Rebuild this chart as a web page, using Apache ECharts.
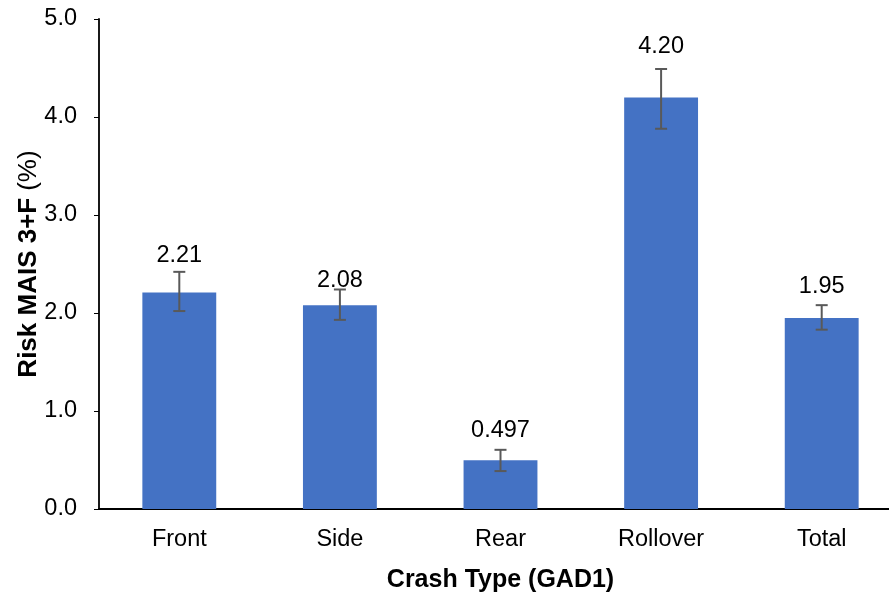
<!DOCTYPE html>
<html>
<head>
<meta charset="utf-8">
<script src="https://cdn.jsdelivr.net/npm/echarts@6/dist/echarts.min.js"></script>
<style>
  html, body { margin: 0; padding: 0; background: #fff; }
  #chart { width: 889px; height: 594px; }
</style>
</head>
<body>
<div id="chart"></div>
<script>
// data
var categories = ['Front', 'Side', 'Rear', 'Rollover', 'Total'];
var risk = [2.21, 2.08, 0.497, 4.20, 1.95];
var riskLabels = ['2.21', '2.08', '0.497', '4.20', '1.95'];
var errLow = [2.02, 1.93, 0.387, 3.88, 1.83];
var errHigh = [2.42, 2.24, 0.604, 4.49, 2.08];
var yTicks = [0, 1, 2, 3, 4, 5];

// label nudges (px) so they sit like the reference
var labelShift = [-20, -8, -13, -34, -14];

var myChart = echarts.init(document.getElementById('chart'));

var barData = risk.map(function (v, i) {
    return {
        value: v,
        label: { offset: [0, labelShift[i]], formatter: riskLabels[i] }
    };
});

var errData = categories.map(function (c, i) {
    return [i, errLow[i], errHigh[i]];
});

var option = {
    animation: false,
    grid: {
        left: 99,
        top: 19,
        width: 803,
        height: 490,
        containLabel: false,
        outerBoundsMode: 'none'
    },
    xAxis: {
        type: 'category',
        data: categories,
        name: 'Crash Type (GAD1)',
        nameLocation: 'middle',
        nameGap: 59,
        nameMoveOverlap: false,
        nameTextStyle: {
            fontFamily: 'Liberation Sans',
            fontSize: 25,
            fontWeight: 'bold',
            color: '#000'
        },
        axisLine: { lineStyle: { color: '#000', width: 1.8 } },
        axisTick: { show: false },
        axisLabel: {
            fontFamily: 'Liberation Sans',
            fontSize: 23.5,
            color: '#000',
            margin: 19
        }
    },
    yAxis: {
        type: 'value',
        min: 0,
        max: 5,
        interval: 1,
        name: '{b|Risk MAIS 3+F} {n|(%)}',
        nameLocation: 'middle',
        nameGap: 57,
        nameMoveOverlap: false,
        nameRotate: 90,
        nameTextStyle: {
            fontSize: 25,
            rich: {
                b: { fontFamily: 'Liberation Sans', fontSize: 26, fontWeight: 'bold', color: '#000' },
                n: { fontFamily: 'Liberation Sans', fontSize: 26, color: '#000' }
            }
        },
        axisLine: { show: true, lineStyle: { color: '#000', width: 1.8 } },
        axisTick: { show: true, inside: false, length: 5, lineStyle: { color: '#000' } },
        splitLine: { show: false },
        axisLabel: {
            fontFamily: 'Liberation Sans',
            fontSize: 23.5,
            color: '#000',
            margin: 22,
            formatter: function (v) {
                return yTicks.indexOf(v) >= 0 ? v.toFixed(1) : '';
            }
        }
    },
    series: [
        {
            type: 'bar',
            data: barData,
            barWidth: '46%',
            itemStyle: { color: '#4472C4' },
            label: {
                show: true,
                position: 'top',
                distance: 5,
                fontFamily: 'Liberation Sans',
                fontSize: 23.5,
                color: '#000'
            },
            z: 2
        },
        {
            type: 'custom',
            data: errData,
            z: 5,
            renderItem: function (params, api) {
                var x = api.value(0);
                var lo = api.coord([x, api.value(1)]);
                var hi = api.coord([x, api.value(2)]);
                var half = 6;
                var st = { stroke: '#595959', lineWidth: 2 };
                return {
                    type: 'group',
                    children: [
                        { type: 'line', shape: { x1: lo[0], y1: lo[1], x2: hi[0], y2: hi[1] }, style: st },
                        { type: 'line', shape: { x1: lo[0] - half, y1: lo[1], x2: lo[0] + half, y2: lo[1] }, style: st },
                        { type: 'line', shape: { x1: hi[0] - half, y1: hi[1], x2: hi[0] + half, y2: hi[1] }, style: st }
                    ]
                };
            }
        }
    ]
};

myChart.setOption(option);
window.addEventListener("resize", function () {
    myChart.resize();
});
</script>
</body>
</html>
